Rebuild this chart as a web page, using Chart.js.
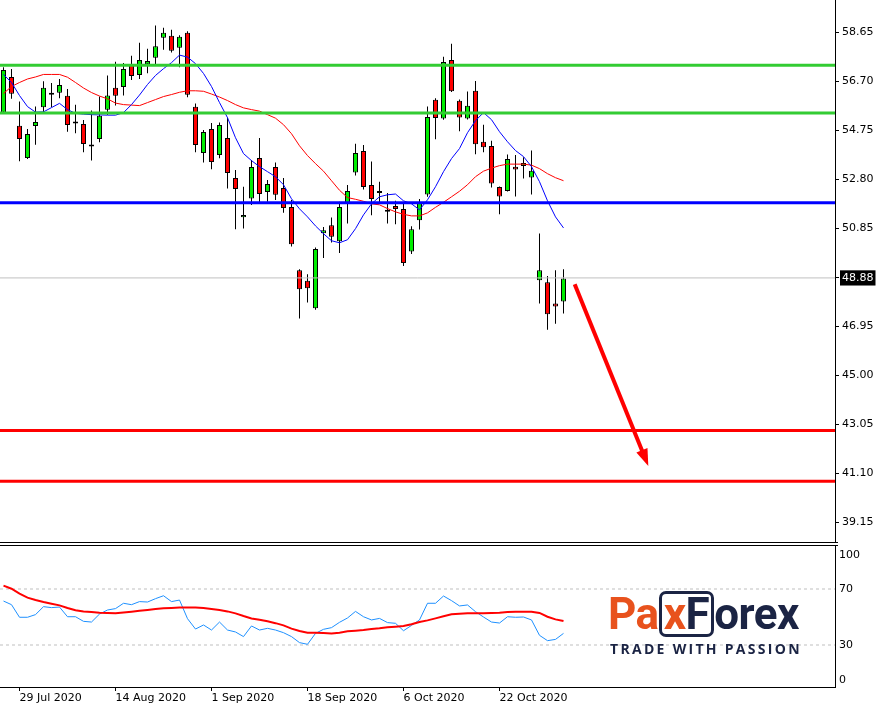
<!DOCTYPE html>
<html>
<head>
<meta charset="utf-8">
<script src="https://cdn.jsdelivr.net/npm/chart.js@4.4.0/dist/chart.umd.min.js"></script>
<style>
  html, body { margin: 0; padding: 0; background: #fff; }
  #wrap { position: relative; width: 883px; height: 708px; overflow: hidden; }
  #price { position: absolute; left: 0; top: 0; }
  #osc { position: absolute; left: 0; top: 543px; }
  #logo { position: absolute; left: 608px; top: 589px; width: 194px; }
  #brand { font: 700 44px 'Roboto'; color: #1b2444; letter-spacing: -0.5px; line-height: 50px; white-space: nowrap; }
  #brand .or { color: #e8521d; }
  #box { display: inline-block; border: 3px solid #1b2444; border-radius: 7px; line-height: 40px; padding: 0 2px; }
  #tag { font: 700 14px 'Open Sans'; color: #1b2444; letter-spacing: 2.3px; margin: 0 0 0 2px; white-space: nowrap; }
</style>
</head>
<body>
<div id="wrap">
  <canvas id="price" width="883" height="543"></canvas>
  <canvas id="osc" width="883" height="165"></canvas>
  <div id="logo">
    <div id="brand"><span class="or">Pa</span><span id="box"><span class="or">x</span>F</span>orex</div>
    <div id="tag">TRADE WITH PASSION</div>
  </div>
</div>
<script>
// trading days shown on the chart
const dates = [
  '27 Jul 2020', '28 Jul 2020', '29 Jul 2020', '30 Jul 2020', '31 Jul 2020',
  '3 Aug 2020', '4 Aug 2020', '5 Aug 2020', '6 Aug 2020', '7 Aug 2020',
  '10 Aug 2020', '11 Aug 2020', '12 Aug 2020', '13 Aug 2020', '14 Aug 2020',
  '17 Aug 2020', '18 Aug 2020', '19 Aug 2020', '20 Aug 2020', '21 Aug 2020',
  '24 Aug 2020', '25 Aug 2020', '26 Aug 2020', '27 Aug 2020', '28 Aug 2020', '31 Aug 2020',
  '1 Sep 2020', '2 Sep 2020', '3 Sep 2020', '4 Sep 2020', '8 Sep 2020',
  '9 Sep 2020', '10 Sep 2020', '11 Sep 2020', '14 Sep 2020', '15 Sep 2020',
  '16 Sep 2020', '17 Sep 2020', '18 Sep 2020', '21 Sep 2020', '22 Sep 2020',
  '23 Sep 2020', '24 Sep 2020', '25 Sep 2020', '28 Sep 2020', '29 Sep 2020', '30 Sep 2020',
  '1 Oct 2020', '2 Oct 2020', '5 Oct 2020', '6 Oct 2020', '7 Oct 2020',
  '8 Oct 2020', '9 Oct 2020', '12 Oct 2020', '13 Oct 2020', '14 Oct 2020',
  '15 Oct 2020', '16 Oct 2020', '19 Oct 2020', '20 Oct 2020', '21 Oct 2020',
  '22 Oct 2020', '23 Oct 2020', '26 Oct 2020', '27 Oct 2020', '28 Oct 2020',
  '29 Oct 2020', '30 Oct 2020', '2 Nov 2020', '3 Nov 2020'
];
const dateTicks = ['29 Jul 2020', '14 Aug 2020', '1 Sep 2020', '18 Sep 2020', '6 Oct 2020', '22 Oct 2020'];

const open = [55.47, 56.88, 54.94, 53.65, 54.93, 55.67, 56.25, 56.25, 56.13, 55.06,
  55.01, 54.13, 54.41, 55.57, 56.45, 56.48, 57.39, 56.96, 57.39, 57.64,
  58.44, 58.52, 58.04, 58.64, 55.69, 53.85, 54.81, 53.77, 54.45, 52.86,
  51.30, 52.04, 53.65, 52.30, 53.30, 52.46, 51.70, 49.19, 48.77, 47.67,
  50.66, 50.98, 50.34, 51.86, 53.08, 53.93, 52.58, 52.26, 51.53, 51.74,
  51.62, 49.93, 51.18, 52.20, 55.97, 55.23, 57.56, 55.93, 55.23, 56.33,
  54.30, 54.13, 52.50, 52.34, 53.31, 53.34, 52.88, 48.79, 48.71, 47.86, 47.94];
const high = [57.27, 57.20, 55.90, 54.81, 55.70, 56.71, 56.64, 56.80, 56.40, 55.77,
  55.17, 55.54, 56.10, 56.94, 57.49, 57.44, 57.72, 58.24, 58.00, 58.93,
  58.84, 58.76, 58.54, 58.70, 55.82, 54.77, 55.05, 55.07, 55.27, 53.18,
  52.51, 53.57, 54.45, 52.78, 53.47, 52.86, 51.98, 49.23, 49.03, 50.09,
  50.91, 51.29, 51.91, 52.58, 54.22, 54.17, 53.51, 52.71, 52.26, 51.95,
  51.82, 50.94, 52.02, 55.70, 56.03, 57.68, 58.20, 55.98, 56.30, 56.72,
  54.98, 54.34, 52.52, 53.79, 53.77, 53.68, 53.95, 50.65, 48.96, 49.19, 49.23];
const low = [55.41, 56.01, 53.52, 53.61, 54.18, 55.47, 55.67, 56.03, 54.70, 54.64,
  53.88, 53.55, 54.28, 55.37, 55.74, 56.14, 56.76, 56.80, 57.03, 57.40,
  57.96, 57.85, 57.27, 56.07, 53.88, 53.47, 53.21, 53.64, 52.44, 50.82,
  50.85, 51.78, 51.88, 51.91, 51.98, 51.47, 50.13, 47.26, 47.90, 47.61,
  49.67, 50.29, 49.87, 51.05, 52.96, 52.40, 51.37, 51.82, 51.05, 51.02,
  49.35, 49.83, 50.81, 52.11, 54.40, 55.18, 56.28, 54.72, 55.19, 53.80,
  53.88, 52.48, 51.41, 52.32, 52.12, 52.84, 52.20, 47.86, 46.82, 47.06, 47.46];
const close = [57.16, 56.21, 54.41, 54.61, 55.09, 56.45, 56.17, 56.56, 54.97, 55.03,
  54.21, 54.11, 55.34, 56.14, 56.13, 57.20, 56.92, 57.56, 57.52, 58.10,
  58.64, 57.92, 58.48, 56.17, 54.17, 54.69, 53.49, 54.97, 53.06, 52.42,
  51.38, 53.30, 52.22, 52.62, 52.19, 51.66, 50.22, 48.43, 48.47, 50.03,
  50.78, 50.52, 51.70, 52.34, 53.85, 52.50, 52.02, 52.34, 51.51, 51.62,
  49.47, 50.82, 51.88, 55.29, 55.25, 57.48, 56.31, 55.27, 55.73, 54.20,
  54.08, 52.64, 52.12, 53.61, 53.20, 53.45, 53.15, 49.19, 47.43, 47.74, 48.86];

// moving averages (fast blue, slow red)
const maFast = [56.98, 56.66, 56.14, 55.70, 55.48, 55.49, 55.66, 55.83, 55.58, 55.43,
  55.40, 55.38, 55.37, 55.36, 55.36, 55.46, 55.78, 56.16, 56.58, 56.94,
  57.21, 57.45, 57.75, 57.67, 57.41, 57.02, 56.50, 55.86, 55.26, 54.46,
  53.83, 53.55, 53.31, 53.11, 52.91, 52.59, 52.03, 51.63, 51.31, 50.95,
  50.64, 50.36, 50.28, 50.40, 50.84, 51.39, 51.83, 52.11, 52.19, 52.22,
  51.95, 51.83, 51.59, 51.99, 52.51, 53.11, 53.63, 54.03, 54.66, 55.14,
  55.46, 55.18, 54.70, 54.30, 53.95, 53.71, 53.31, 52.71, 51.95, 51.31, 50.87];
const maSlow = [56.22, 56.50, 56.66, 56.80, 56.88, 56.98, 56.98, 56.98, 56.87, 56.66,
  56.44, 56.26, 56.12, 56.01, 55.84, 55.78, 55.76, 55.74, 55.86, 55.98,
  56.10, 56.18, 56.27, 56.33, 56.33, 56.31, 56.20, 56.08, 55.94, 55.78,
  55.65, 55.58, 55.52, 55.38, 55.24, 54.98, 54.62, 54.14, 53.75, 53.43,
  53.13, 52.75, 52.37, 52.08, 52.01, 51.93, 51.83, 51.79, 51.64, 51.51,
  51.41, 51.35, 51.35, 51.47, 51.69, 51.89, 52.11, 52.33, 52.59, 52.91,
  53.13, 53.25, 53.35, 53.41, 53.41, 53.41, 53.37, 53.23, 53.03, 52.87, 52.75];

// oscillator (lower panel)
const oscFast = [61.4, 58.8, 49.8, 49.8, 51.7, 57.4, 56.7, 57.1, 50.2, 50.2,
  46.9, 46.4, 52.1, 55.0, 56.0, 59.8, 58.8, 61.0, 60.7, 63.1,
  65.2, 61.0, 62.1, 48.8, 41.4, 44.3, 40.7, 46.4, 40.7, 39.3,
  36.0, 43.6, 40.7, 41.9, 40.7, 38.8, 36.0, 31.7, 30.5, 38.3,
  41.2, 42.4, 46.2, 49.3, 54.0, 50.2, 47.9, 49.0, 46.0, 45.5,
  40.2, 44.0, 47.9, 59.8, 59.8, 65.0, 61.7, 57.9, 58.6, 53.8,
  50.0, 46.4, 45.7, 50.2, 49.8, 50.0, 47.9, 36.9, 33.1, 34.0, 38.3];
const oscSlow = [72.4, 70.2, 66.7, 63.8, 62.1, 60.7, 59.5, 58.3, 56.4, 54.8,
  53.9, 53.6, 53.1, 52.9, 52.6, 53.2, 53.8, 54.4, 55.0, 55.7,
  56.2, 56.4, 56.7, 56.7, 56.7, 56.4, 55.7, 55.0, 54.0, 52.6,
  50.7, 49.0, 48.1, 46.9, 45.6, 44.0, 41.7, 40.0, 38.8, 38.8,
  38.6, 38.3, 38.8, 39.8, 40.2, 40.7, 41.4, 41.9, 42.6, 43.1,
  43.6, 44.8, 46.4, 47.6, 49.0, 50.5, 51.9, 52.4, 52.6, 52.6,
  52.6, 52.9, 53.1, 53.6, 53.8, 53.8, 53.8, 52.9, 50.2, 48.3, 47.1];
const oscLevels = [70, 30];
const oscTickValues = [100, 70, 30, 0];

// horizontal levels and the projection arrow
const resistance = [57.35, 55.45];
const pivot = [51.87];
const targets = [42.81, 40.79];
const lastPrice = 48.88;
const priceTicks = [58.65, 56.70, 54.75, 52.80, 50.85, 48.88, 46.95, 45.00, 43.05, 41.10, 39.15];
const arrowX = [71.4, 80.6];
const arrowY = [48.63, 41.39];

// layout: 8 px per bar, bar 0 centred at 3.5 px
const xMin = -0.4375, xMax = 103.9375;
const pxPerPrice = 25.12;
const yMax = 58.65 + 32.5 / pxPerPrice;
const yMin = yMax - 543 / pxPerPrice;

Chart.defaults.font.family = 'DejaVu Sans';
Chart.defaults.font.size = 11;
Chart.defaults.color = '#000';

const pts = arr => arr.map((v, i) => ({ x: i, y: v }));
const hline = (v, color, width, dash) => ({
  type: 'line', data: [{ x: xMin, y: v }, { x: xMax, y: v }],
  borderColor: color, borderWidth: width, borderDash: dash || [],
  pointRadius: 0, order: 2
});

const frame = {
  id: 'frame',
  afterDraw(chart, args, opts) {
    const { ctx, chartArea: a } = chart;
    ctx.save();
    ctx.strokeStyle = '#000';
    ctx.lineWidth = 1;
    ctx.beginPath();
    if (opts.bottom) { ctx.moveTo(0, a.bottom - 0.5); ctx.lineTo(a.right + 3, a.bottom - 0.5); }
    if (opts.top) { ctx.moveTo(0, a.top + 0.5); ctx.lineTo(a.right + 3, a.top + 0.5); }
    ctx.stroke();
    ctx.restore();
  }
};

const arrow = {
  id: 'arrow',
  afterDatasetsDraw(chart) {
    const { ctx, scales: { x, y } } = chart;
    const x1 = x.getPixelForValue(arrowX[0]), y1 = y.getPixelForValue(arrowY[0]);
    const x2 = x.getPixelForValue(arrowX[1]), y2 = y.getPixelForValue(arrowY[1]);
    const a = Math.atan2(y2 - y1, x2 - x1);
    const len = 17, half = 6;
    const bx = x2 - len * Math.cos(a), by = y2 - len * Math.sin(a);
    ctx.save();
    ctx.strokeStyle = ctx.fillStyle = '#ff0000';
    ctx.lineWidth = 4;
    ctx.beginPath();
    ctx.moveTo(x1, y1);
    ctx.lineTo(bx + Math.cos(a), by + Math.sin(a));
    ctx.stroke();
    ctx.beginPath();
    ctx.moveTo(x2, y2);
    ctx.lineTo(bx + half * Math.sin(a), by - half * Math.cos(a));
    ctx.lineTo(bx - half * Math.sin(a), by + half * Math.cos(a));
    ctx.closePath();
    ctx.fill();
    ctx.restore();
  }
};

const fixAxis = (w) => (s) => { s.width = w; s.paddingTop = 0; s.paddingBottom = 0; };

new Chart(document.getElementById('price'), {
  type: 'bar',
  data: {
    datasets: [
      hline(lastPrice, '#c0c0c0', 1),
      { type: 'bar', data: open.map((o, i) => ({ x: i, y: [o, close[i]] })),
        backgroundColor: open.map((o, i) => close[i] >= o ? '#00ee00' : '#ff0000'),
        borderColor: '#000', borderWidth: 1, borderSkipped: false, barThickness: 5,
        minBarLength: 2, grouped: false, inflateAmount: 0, order: 4 },
      { type: 'bar', data: low.map((l, i) => ({ x: i, y: [l, high[i]] })),
        backgroundColor: '#000', borderWidth: 0, barThickness: 1,
        grouped: false, inflateAmount: 0, order: 5 },
      { type: 'line', data: pts(maFast), borderColor: '#0000ff', borderWidth: 1, pointRadius: 0, order: 3 },
      { type: 'line', data: pts(maSlow), borderColor: '#ff0000', borderWidth: 1, pointRadius: 0, order: 3 },
      ...resistance.map(v => hline(v, '#33cc33', 3)),
      ...pivot.map(v => hline(v, '#0000ff', 3)),
      ...targets.map(v => hline(v, '#ff0000', 3))
    ]
  },
  options: {
    responsive: false,
    animation: false,
    events: [],
    layout: { padding: 0 },
    plugins: { legend: { display: false }, tooltip: { enabled: false }, frame: { bottom: true } },
    scales: {
      x: { type: 'linear', min: xMin, max: xMax, display: false, offset: false },
      y: {
        position: 'right', min: yMin, max: yMax, bounds: 'data',
        afterBuildTicks: s => { s.ticks = priceTicks.map(v => ({ value: v })); },
        afterFit: fixAxis(48),
        grid: { drawOnChartArea: false, tickLength: 4, tickColor: '#000' },
        border: { color: '#000', width: 1 },
        ticks: {
          padding: 3,
          autoSkip: false,
          callback: v => v.toFixed(2),
          color: c => c.tick && c.tick.value === lastPrice ? '#fff' : '#000',
          showLabelBackdrop: c => !!(c.tick && c.tick.value === lastPrice),
          backdropColor: '#000',
          backdropPadding: { x: 2, y: 1 }
        }
      }
    }
  },
  plugins: [frame, arrow]
});

new Chart(document.getElementById('osc'), {
  type: 'line',
  data: {
    datasets: [
      ...oscLevels.map(v => hline(v, '#c0c0c0', 1, [3, 3])),
      { data: pts(oscFast), borderColor: '#1e90ff', borderWidth: 1, pointRadius: 0, order: 1 },
      { data: pts(oscSlow), borderColor: '#ff0000', borderWidth: 2, pointRadius: 0, order: 0 }
    ]
  },
  options: {
    responsive: false,
    animation: false,
    events: [],
    layout: { padding: { top: 2 } },
    plugins: { legend: { display: false }, tooltip: { enabled: false }, frame: { top: true } },
    scales: {
      x: {
        type: 'linear', min: xMin, max: xMax, offset: false,
        afterBuildTicks: s => { s.ticks = dateTicks.map(d => ({ value: dates.indexOf(d) })); },
        afterFit: s => { s.height = 21; s.paddingLeft = 0; s.paddingRight = 0; },
        grid: { drawOnChartArea: false, tickLength: 4, tickColor: '#000' },
        border: { color: '#000', width: 1 },
        ticks: { align: 'start', padding: 1, maxRotation: 0, autoSkip: false, callback: v => dates[v] }
      },
      y: {
        position: 'right', min: 0, max: 101.43, bounds: 'data',
        afterBuildTicks: s => {
          s.ticks = oscTickValues.map(v => ({ value: v === 100 ? 94.5 : v === 0 ? 5 : v }));
        },
        afterFit: fixAxis(48),
        grid: { drawOnChartArea: false, drawTicks: false },
        border: { color: '#000', width: 1 },
        ticks: { padding: 4, autoSkip: false, callback: (v, i) => String(oscTickValues[i]) }
      }
    }
  },
  plugins: [frame]
});
</script>
</body>
</html>
